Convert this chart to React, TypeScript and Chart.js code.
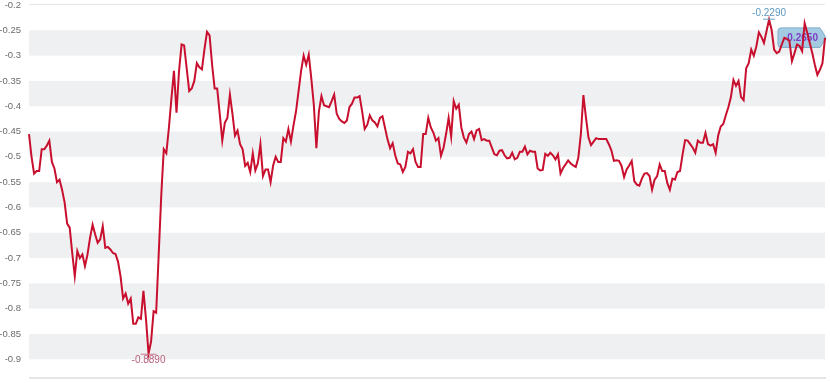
import React, { useEffect, useRef } from 'react';
import { Chart, registerables } from 'chart.js';

Chart.register(...registerables);

const VALUES_FIRST = [
  -0.455, -0.5, -0.533, -0.528, -0.528, -0.485, -0.485, -0.478, -0.468, -0.51,
  -0.523, -0.55, -0.545, -0.565, -0.59, -0.632, -0.64, -0.69, -0.736, -0.686,
  -0.7, -0.693, -0.716, -0.693, -0.66, -0.634, -0.653, -0.67, -0.663, -0.637,
  -0.68, -0.678, -0.683, -0.69, -0.692, -0.707, -0.736, -0.78, -0.77, -0.79,
  -0.78, -0.83, -0.83, -0.817, -0.82, -0.765, -0.82, -0.889, -0.865, -0.805,
  -0.808, -0.693, -0.577, -0.485, -0.493, -0.443, -0.385, -0.33, -0.413, -0.33,
  -0.278, -0.28, -0.325, -0.37, -0.365, -0.35, -0.315, -0.323, -0.327, -0.287,
  -0.253, -0.26, -0.318, -0.365, -0.365, -0.415, -0.468, -0.433, -0.423, -0.377,
  -0.415, -0.458, -0.448, -0.475, -0.485, -0.518, -0.512, -0.53, -0.493, -0.527,
  -0.513, -0.475, -0.538, -0.525, -0.525, -0.55, -0.517, -0.5, -0.51, -0.51,
  -0.463, -0.47, -0.445, -0.47, -0.438, -0.41, -0.37, -0.33, -0.3, -0.318,
  -0.298, -0.345, -0.397, -0.483, -0.41, -0.38, -0.398, -0.4, -0.402, -0.39,
  -0.377, -0.415, -0.425, -0.43, -0.433, -0.428, -0.402, -0.395, -0.383, -0.383,
  -0.38, -0.41, -0.445, -0.437, -0.418, -0.428, -0.432, -0.44, -0.423, -0.42,
  -0.443, -0.466, -0.483, -0.473, -0.497, -0.513, -0.515, -0.53, -0.52, -0.49,
  -0.493, -0.485, -0.51, -0.52, -0.52, -0.455,
];

const VALUES_SECOND = [
  -0.455, -0.423, -0.442, -0.452, -0.468, -0.463, -0.498, -0.482, -0.455, -0.423,
  -0.46, -0.39, -0.405, -0.397, -0.442, -0.462, -0.472, -0.455, -0.45, -0.465,
  -0.448, -0.445, -0.467, -0.465, -0.468, -0.468, -0.482, -0.495, -0.497, -0.488,
  -0.487, -0.497, -0.503, -0.502, -0.492, -0.505, -0.502, -0.49, -0.49, -0.48,
  -0.495, -0.488, -0.49, -0.49, -0.523, -0.527, -0.526, -0.494, -0.498, -0.492,
  -0.497, -0.505, -0.495, -0.533, -0.522, -0.515, -0.507, -0.513, -0.517, -0.52,
  -0.502, -0.455, -0.378, -0.422, -0.462, -0.477, -0.47, -0.463, -0.465, -0.465,
  -0.465, -0.465, -0.475, -0.487, -0.508, -0.507, -0.508, -0.518, -0.54, -0.525,
  -0.517, -0.508, -0.548, -0.555, -0.557, -0.543, -0.533, -0.532, -0.538, -0.565,
  -0.545, -0.538, -0.515, -0.528, -0.528, -0.552, -0.565, -0.543, -0.545, -0.53,
  -0.528, -0.495, -0.467, -0.468, -0.475, -0.482, -0.492, -0.468, -0.472, -0.472,
  -0.453, -0.475, -0.478, -0.475, -0.492, -0.458, -0.44, -0.435, -0.418, -0.402,
  -0.382, -0.348, -0.36, -0.35, -0.382, -0.388, -0.325, -0.315, -0.288, -0.3,
  -0.282, -0.254, -0.263, -0.275, -0.252, -0.229, -0.249, -0.288, -0.295, -0.292,
  -0.278, -0.265, -0.267, -0.271, -0.311, -0.295, -0.278, -0.281, -0.291, -0.236,
  -0.255, -0.275, -0.295, -0.318, -0.338, -0.328, -0.315, -0.265,
];

const SERIES = [...VALUES_FIRST, ...VALUES_SECOND];
const CATEGORIES = SERIES.map((_, i) => String(i + 1));

const Y_TICKS = [-0.2, -0.25, -0.3, -0.35, -0.4, -0.45, -0.5, -0.55, -0.6, -0.65, -0.7, -0.75, -0.8, -0.85, -0.9];
const Y_TICK_LABELS = ['-0.2', '-0.25', '-0.3', '-0.35', '-0.4', '-0.45', '-0.5', '-0.55', '-0.6', '-0.65', '-0.7', '-0.75', '-0.8', '-0.85', '-0.9'];
const BANDS: [number, number][] = [
  [-0.25, -0.3], [-0.35, -0.4], [-0.45, -0.5], [-0.55, -0.6],
  [-0.65, -0.7], [-0.75, -0.8], [-0.85, -0.9],
];

const FONT = "'Liberation Sans', Arial, sans-serif";

const decorPlugin = {
  id: 'decor',
  beforeDatasetsDraw(chart: any) {
    const { ctx, chartArea: a, scales } = chart;
    const x = scales.x, y = scales.y;
    ctx.save();
    ctx.fillStyle = '#eff0f2';
    for (const [t, b] of BANDS) {
      const yt = y.getPixelForValue(t);
      const yb = y.getPixelForValue(b);
      ctx.fillRect(a.left, yt, a.right - a.left, yb - yt);
    }
    ctx.strokeStyle = '#e6e6e6';
    ctx.lineWidth = 1;
    const y0 = Math.round(y.getPixelForValue(Y_TICKS[0])) - 0.5;
    ctx.beginPath();
    ctx.moveTo(a.left, y0);
    ctx.lineTo(a.right, y0);
    ctx.stroke();
    ctx.strokeStyle = '#dcdcdc';
    ctx.lineWidth = 1.5;
    ctx.beginPath();
    ctx.moveTo(a.left, a.bottom);
    ctx.lineTo(a.right + 1, a.bottom);
    ctx.stroke();

    const data = chart.data.datasets[0].data as number[];
    const li = data.length - 1;
    const lx = x.getPixelForValue(li);
    const ly = y.getPixelForValue(data[li]);
    const right = lx - 5, left = lx - 47, top = ly - 10, bottom = ly + 9.5;
    ctx.beginPath();
    ctx.moveTo(left + 3, top);
    ctx.lineTo(right, top);
    ctx.lineTo(lx + 1, ly);
    ctx.lineTo(right, bottom);
    ctx.lineTo(left + 3, bottom);
    ctx.quadraticCurveTo(left, bottom, left, bottom - 3);
    ctx.lineTo(left, top + 3);
    ctx.quadraticCurveTo(left, top, left + 3, top);
    ctx.closePath();
    ctx.fillStyle = 'rgba(150,195,222,0.85)';
    ctx.fill();
    ctx.strokeStyle = '#7aaccb';
    ctx.lineWidth = 1;
    ctx.stroke();
    ctx.fillStyle = '#7b3fc4';
    ctx.font = `bold 10px ${FONT}`;
    ctx.textAlign = 'center';
    ctx.textBaseline = 'middle';
    ctx.fillText(data[li].toFixed(4), (left + right) / 2 + 2, ly + 0.5);
    ctx.restore();
  },
  afterDatasetsDraw(chart: any) {
    const { ctx, scales } = chart;
    const x = scales.x, y = scales.y;
    const data = chart.data.datasets[0].data as number[];
    let mi = 0, ma = 0;
    data.forEach((v, i) => {
      if (v < data[mi]) mi = i;
      if (v > data[ma]) ma = i;
    });
    ctx.save();
    ctx.font = `10px ${FONT}`;
    ctx.textAlign = 'center';
    const mx = x.getPixelForValue(mi), my = y.getPixelForValue(data[mi]);
    ctx.strokeStyle = '#c9788a';
    ctx.lineWidth = 1;
    ctx.beginPath();
    ctx.moveTo(mx - 8, my + 0.5);
    ctx.lineTo(mx + 8, my + 0.5);
    ctx.stroke();
    ctx.fillStyle = '#b9607a';
    ctx.textBaseline = 'top';
    ctx.fillText(data[mi].toFixed(4), mx, my + 2);
    const Mx = x.getPixelForValue(ma), My = y.getPixelForValue(data[ma]);
    ctx.strokeStyle = '#6aa3c6';
    ctx.beginPath();
    ctx.moveTo(Mx - 6, My - 0.5);
    ctx.lineTo(Mx + 6, My - 0.5);
    ctx.stroke();
    ctx.fillStyle = '#5b98c0';
    ctx.textBaseline = 'bottom';
    ctx.fillText(data[ma].toFixed(4), Mx, My - 1);
    ctx.restore();
  },
};

export default function App() {
  const ref = useRef<HTMLCanvasElement | null>(null);
  useEffect(() => {
    document.body.style.margin = '0';
    const chart = new Chart(ref.current as HTMLCanvasElement, {
      type: 'line',
      data: {
        labels: CATEGORIES,
        datasets: [
          {
            data: SERIES,
            borderColor: '#c8102e',
            borderWidth: 2,
            pointRadius: 0,
            tension: 0,
            fill: false,
          },
        ],
      },
      options: {
        animation: false,
        responsive: false,
        maintainAspectRatio: false,
        layout: { padding: { top: 5, right: 5, bottom: 5, left: 0 } },
        plugins: {
          legend: { display: false },
          tooltip: { enabled: false },
        },
        scales: {
          x: { display: false, offset: false },
          y: {
            min: -0.937,
            max: -0.2,
            afterBuildTicks: (scale: any) => {
              scale.ticks = Y_TICKS.map((v) => ({ value: v }));
            },
            afterFit: (scale: any) => {
              scale.width = 29;
              scale.paddingTop = 0;
              scale.paddingBottom = 0;
            },
            grid: { display: false, drawTicks: false },
            border: { display: false },
            ticks: {
              padding: 8,
              color: '#6b6b6b',
              font: { size: 9.5, family: FONT },
              callback: (v: any) => {
                const i = Y_TICKS.findIndex((t) => Math.abs(t - Number(v)) < 1e-6);
                return i >= 0 ? Y_TICK_LABELS[i] : '';
              },
            },
          },
        },
      },
      plugins: [decorPlugin],
    });
    return () => chart.destroy();
  }, []);
  return (
    <div style={{ position: 'absolute', left: 0, top: 0, width: 830, height: 383, background: '#fff' }}>
      <canvas ref={ref} width={830} height={383} style={{ display: 'block' }} />
    </div>
  );
}
